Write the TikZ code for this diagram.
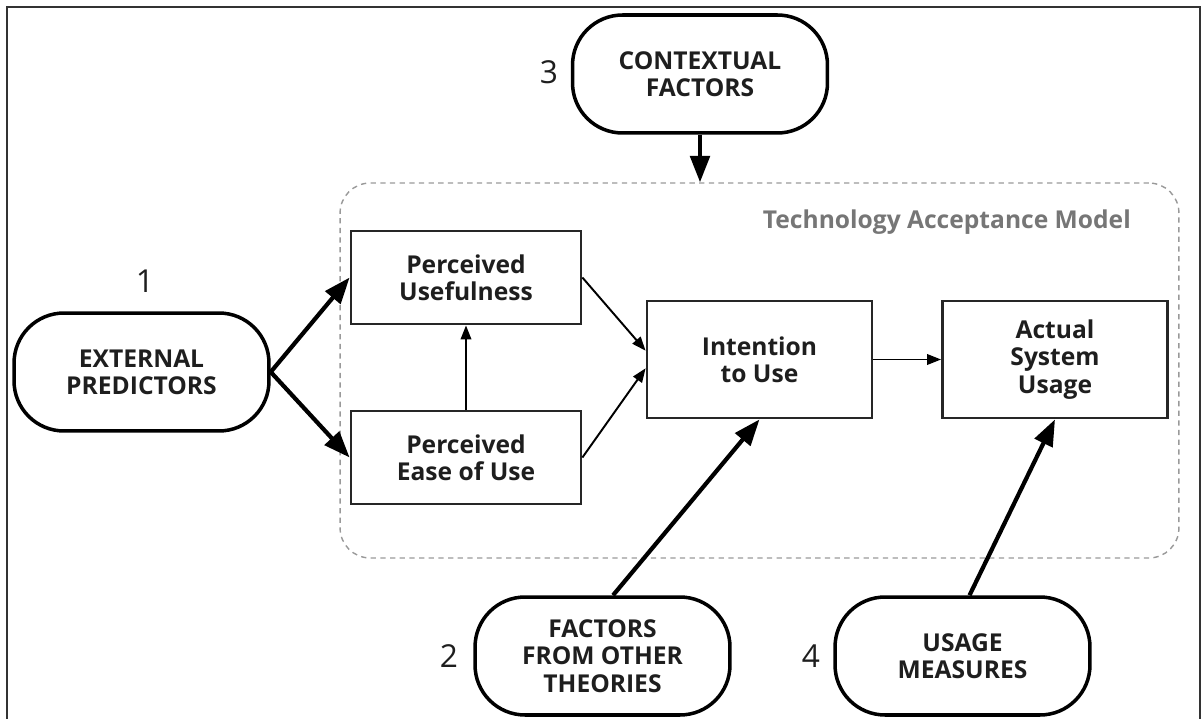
\documentclass[tikz,border=0pt]{standalone}
\usepackage{fontspec}
\setmainfont{Open Sans}
\usepackage{xcolor}
\usetikzlibrary{positioning,arrows.meta}

\definecolor{inkgray}{HTML}{1E1E1E}
\definecolor{modelgray}{HTML}{767676}

\begin{document}
\begin{tikzpicture}[x=0.02cm,y=-0.02cm,
  every node/.style={font=\fontsize{14}{15.5}\selectfont\bfseries, text=inkgray, align=center},
  factor/.style={draw=black, line width=2pt, rounded corners=1cm, minimum width=5.1cm, minimum height=2.36cm},
  construct/.style={draw=black!85, line width=1.6pt, minimum width=4.6cm, minimum height=1.86cm},
  bigbox/.style={construct, minimum width=4.5cm, minimum height=2.34cm},
  num/.style={font=\fontsize{18}{20}\selectfont, text=inkgray},
  thin/.style={line width=1.1pt, -{Triangle[length=8pt,width=6pt]}},
  heavy/.style={line width=2.4pt, -{Triangle[length=15pt,width=11pt]}}]
\useasboundingbox (0,0) rectangle (1203,719);
% frame
\draw[black!80, line width=1.2pt] (7,719) -- (7,7) -- (1200,7) -- (1200,719);

% model boundary
\node[draw=black!40, dash pattern=on 3pt off 2.5pt, line width=0.8pt, rounded corners=0.6cm,
      minimum width=16.78cm, minimum height=7.5cm] (tam) at (759.5,370.5) {};
\node[anchor=east, text=modelgray] (tamlabel) at (1137,222) {Technology Acceptance Model};

% core constructs
\node[construct] (pu) at (466,277.5) {Perceived\\Usefulness};
\node[construct] (peou) at (466,457.5) {Perceived\\Ease of Use};
\node[bigbox] (iu) at (759.5,359.5) {Intention\\to Use};
\node[bigbox] (asu) at (1055,359.5) {Actual\\System\\Usage};

% outside factors
\node[factor] (ext) at (141.5,372) {EXTERNAL\\PREDICTORS};
\node[factor] (ctx) at (700,74) {CONTEXTUAL\\FACTORS};
\node[factor] (fot) at (602.5,656) {FACTORS\\FROM OTHER\\THEORIES};
\node[factor] (um) at (962.5,656) {USAGE\\MEASURES};

% numbers
\node[num] (n1) at (145,281) {1};
\node[num] (n2) at (449,656) {2};
\node[num] (n3) at (549,72) {3};
\node[num] (n4) at (811,656) {4};

% arrows inside the model
\draw[thin] (peou.north) -- (pu.south);
\draw[thin] (pu.east) -- ([yshift=5]iu.west);
\draw[thin] (peou.east) -- ([yshift=-5]iu.west);
\draw[thin] (iu.east) -- (asu.west);

% arrows from the factors
\draw[heavy] (ext.east) -- (pu.west);
\draw[heavy] (ext.east) -- (peou.west);
\draw[heavy] (ctx.south) -- (ctx.south |- tam.north);
\draw[heavy] ([xshift=6]fot.north) -- (iu.south);
\draw[heavy] ([xshift=4]um.north) -- (asu.south);
\end{tikzpicture}
\end{document}
